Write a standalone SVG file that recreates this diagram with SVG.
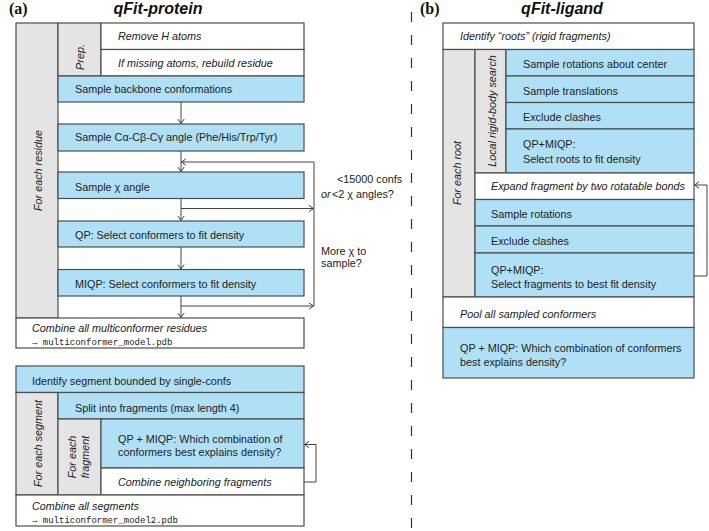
<svg xmlns="http://www.w3.org/2000/svg" width="709" height="531" viewBox="0 0 709 531">
<defs>
<style>
.bx{stroke:#4d4d4d;stroke-width:1.2}
.b{fill:#afe0f6}
.g{fill:#e4e4e4}
.w{fill:#ffffff}
.t{font-family:"Liberation Sans",Arial,sans-serif;font-size:10.8px;fill:#222}
.i{font-style:italic}
.m{font-family:"Liberation Mono","Courier New",monospace;font-size:9px;fill:#222}
.h{font-family:"Liberation Sans",Arial,sans-serif;font-size:16px;font-weight:bold;font-style:italic;fill:#111}
.p{font-family:"Liberation Serif","Times New Roman",serif;font-size:16px;font-weight:bold;fill:#111}
.c{fill:none;stroke:#444;stroke-width:1}
</style>
<marker id="ah" markerWidth="6" markerHeight="8" refX="5" refY="4" orient="auto" markerUnits="userSpaceOnUse">
<path d="M0.5,0.8 L5,4 L0.5,7.2" fill="none" stroke="#444" stroke-width="1"/>
</marker>
</defs>
<rect width="709" height="531" fill="#fff"/>

<text class="p" x="9" y="14">(a)</text>
<text class="h" x="158" y="14" text-anchor="middle">qFit-protein</text>
<text class="p" x="420" y="14">(b)</text>
<text class="h" x="562" y="14" text-anchor="middle">qFit-ligand</text>

<line x1="411.5" y1="12" x2="411.5" y2="529" stroke="#333" stroke-width="1.2" stroke-dasharray="10 13"/>

<g id="residue-loop-col">
<rect class="bx g" x="16" y="23" width="42" height="295"/>
<text class="t i" transform="translate(41.5,170.5) rotate(-90)" text-anchor="middle">For each residue</text>
</g>
<g id="prep">
<rect class="bx g" x="58" y="23" width="43" height="53"/>
<text class="t i" transform="translate(84,57) rotate(-90)" text-anchor="middle">Prep.</text>
</g>
<g id="remove-h">
<rect class="bx w" x="101" y="23" width="203" height="26.5"/>
<text class="t i" x="118" y="39.5">Remove H atoms</text>
</g>
<g id="rebuild">
<rect class="bx w" x="101" y="49.5" width="203" height="26.5"/>
<text class="t i" x="118" y="66.5">If missing atoms, rebuild residue</text>
</g>
<g id="backbone">
<rect class="bx b" x="58" y="76" width="246" height="26"/>
<text class="t" x="75" y="93">Sample backbone conformations</text>
</g>
<g id="angle">
<rect class="bx b" x="58" y="124" width="246" height="27"/>
<text class="t" x="75" y="141">Sample Cα-Cβ-Cγ angle (Phe/His/Trp/Tyr)</text>
</g>
<g id="chi">
<rect class="bx b" x="58" y="172" width="246" height="26.5"/>
<text class="t" x="75" y="190.5">Sample χ angle</text>
</g>
<g id="qp">
<rect class="bx b" x="58" y="221" width="246" height="26"/>
<text class="t" x="75" y="238.8">QP: Select conformers to fit density</text>
</g>
<g id="miqp">
<rect class="bx b" x="58" y="269.5" width="246" height="26.5"/>
<text class="t" x="75" y="288">MIQP: Select conformers to fit density</text>
</g>
<g id="combine-residues">
<rect class="bx w" x="16" y="318" width="288" height="30"/>
<text class="t i" x="32" y="332">Combine all multiconformer residues</text>
<text class="m" x="32" y="345">→ multiconformer_model.pdb</text>
</g>

<g id="loop-labels">
<text class="t" x="337" y="182.5">&lt;15000 confs</text>
<text class="t" x="321" y="197.5"><tspan class="i">or</tspan></text>
<text class="t" x="332" y="197.5">&lt;2 χ angles?</text>
<text class="t" x="321" y="255">More χ to</text>
<text class="t" x="321" y="267">sample?</text>
</g>

<g id="identify-segment">
<rect class="bx b" x="16" y="366" width="288" height="26.5"/>
<text class="t" x="32" y="385">Identify segment bounded by single-confs</text>
</g>
<g id="segment-col">
<rect class="bx g" x="16" y="392.5" width="42" height="102.5"/>
<text class="t i" transform="translate(41.5,443.5) rotate(-90)" text-anchor="middle">For each segment</text>
</g>
<g id="split">
<rect class="bx b" x="58" y="392.5" width="246" height="26.5"/>
<text class="t" x="75" y="411.5">Split into fragments (max length 4)</text>
</g>
<g id="fragment-col">
<rect class="bx g" x="58" y="419" width="43" height="76"/>
<text class="t i" transform="translate(75.5,457) rotate(-90)" text-anchor="middle">For each</text>
<text class="t i" transform="translate(88.5,457) rotate(-90)" text-anchor="middle">fragment</text>
</g>
<g id="frag-qpmiqp">
<rect class="bx b" x="101" y="419" width="203" height="49"/>
<text class="t" x="118" y="443">QP + MIQP: Which combination of</text>
<text class="t" x="118" y="455.5">conformers best explains density?</text>
</g>
<g id="combine-neighbors">
<rect class="bx w" x="101" y="468" width="203" height="27"/>
<text class="t i" x="118" y="486">Combine neighboring fragments</text>
</g>
<g id="combine-segments">
<rect class="bx w" x="16" y="495" width="288" height="31"/>
<text class="t i" x="32" y="509.5">Combine all segments</text>
<text class="m" x="32" y="522.5">→ multiconformer_model2.pdb</text>
</g>

<g id="identify-roots">
<rect class="bx w" x="443" y="23" width="251" height="26.5"/>
<text class="t i" x="460" y="39.5">Identify “roots” (rigid fragments)</text>
</g>
<g id="root-col">
<rect class="bx g" x="443" y="49.5" width="32" height="247.5"/>
<text class="t i" transform="translate(461,173) rotate(-90)" text-anchor="middle">For each root</text>
</g>
<g id="rigid-col">
<rect class="bx g" x="475" y="49.5" width="31" height="123.5"/>
<text class="t i" transform="translate(495.5,111) rotate(-90)" text-anchor="middle">Local rigid-body search</text>
</g>
<g id="rot-center">
<rect class="bx b" x="506" y="49.5" width="188" height="26.5"/>
<text class="t" x="523" y="67.5">Sample rotations about center</text>
</g>
<g id="translations">
<rect class="bx b" x="506" y="76" width="188" height="26.5"/>
<text class="t" x="523" y="94.5">Sample translations</text>
</g>
<g id="clash1">
<rect class="bx b" x="506" y="102.5" width="188" height="26.5"/>
<text class="t" x="523" y="121">Exclude clashes</text>
</g>
<g id="roots-qp">
<rect class="bx b" x="506" y="129" width="188" height="44"/>
<text class="t" x="523" y="148">QP+MIQP:</text>
<text class="t" x="523" y="163">Select roots to fit density</text>
</g>
<g id="expand">
<rect class="bx w" x="475" y="173" width="219" height="26.5"/>
<text class="t i" x="491" y="190">Expand fragment by two rotatable bonds</text>
</g>
<g id="rotations">
<rect class="bx b" x="475" y="199.5" width="219" height="26.5"/>
<text class="t" x="491" y="218">Sample rotations</text>
</g>
<g id="clash2">
<rect class="bx b" x="475" y="226" width="219" height="27"/>
<text class="t" x="491" y="245">Exclude clashes</text>
</g>
<g id="frag-qp">
<rect class="bx b" x="475" y="253" width="219" height="44"/>
<text class="t" x="491" y="274">QP+MIQP:</text>
<text class="t" x="491" y="288">Select fragments to best fit density</text>
</g>
<g id="pool">
<rect class="bx w" x="443" y="297" width="251" height="30.5"/>
<text class="t i" x="460" y="317.5">Pool all sampled conformers</text>
</g>
<g id="final-qp">
<rect class="bx b" x="443" y="327.5" width="251" height="50.5"/>
<text class="t" x="460" y="352">QP + MIQP: Which combination of conformers</text>
<text class="t" x="460" y="365.5">best explains density?</text>
</g>

<g id="connectors">
<path class="c" d="M181,102 V123.5" marker-end="url(#ah)"/>
<path class="c" d="M181,151 V171.5" marker-end="url(#ah)"/>
<path class="c" d="M181,198.5 V220.5" marker-end="url(#ah)"/>
<path class="c" d="M181,247 V269" marker-end="url(#ah)"/>
<path class="c" d="M181,296 V317.5" marker-end="url(#ah)"/>
<path class="c" d="M181,208.5 H313.5" marker-end="url(#ah)"/>
<path class="c" d="M181,306 H313.5" marker-end="url(#ah)"/>
<path class="c" d="M314,306 V162 H181.5" marker-end="url(#ah)"/>
<path class="c" d="M304,482 H316 V444.5 H304.5" marker-end="url(#ah)"/>
<path class="c" d="M694,276 H707 V185 H694.5" marker-end="url(#ah)"/>
</g>
</svg>
